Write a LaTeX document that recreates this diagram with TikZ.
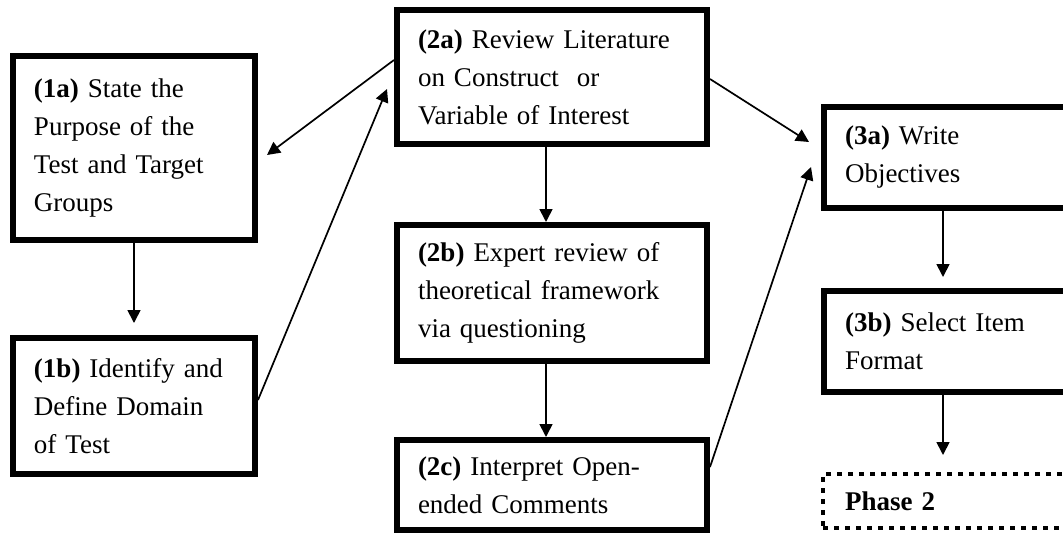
\documentclass[tikz,border=0pt]{standalone}
\usepackage{fontspec}
\setmainfont{Liberation Serif}
\usetikzlibrary{arrows.meta}
\begin{document}
\begin{tikzpicture}[x=1pt,y=-1pt,
  box/.style={draw, line width=6pt, align=left, inner xsep=21pt, inner ysep=0pt,
    font=\fontsize{27}{38}\selectfont, anchor=center},
  phasebox/.style={draw, line width=4pt, dash pattern=on 5pt off 6pt, align=left,
    inner xsep=22pt, inner ysep=0pt, font=\fontsize{27}{38}\selectfont\bfseries, anchor=center},
  arr/.style={line width=1.7pt, -{Triangle[length=13pt,width=13pt]}},
]
\useasboundingbox (0,0) rectangle (1063,536);
\clip (0,0) rectangle (1063,536);

\node[box, minimum width=242pt, minimum height=184pt, text width=200pt] (a1) at (134,148)
  {\textbf{(1a)} State the\\ Purpose of the\\ Test and Target\\ Groups};
\node[box, minimum width=242pt, minimum height=136pt, text width=200pt] (b1) at (134,406)
  {\textbf{(1b)} Identify and\\ Define Domain\\ of Test};

\node[box, minimum width=310pt, minimum height=134pt, text width=268pt] (a2) at (552,77)
  {\textbf{(2a)} Review Literature\\ on Construct{ } or\\ Variable of Interest};
\node[box, minimum width=310pt, minimum height=136pt, text width=268pt] (b2) at (552,293)
  {\textbf{(2b)} Expert review of\\ theoretical framework\\ via questioning};
\node[box, minimum width=310pt, minimum height=90pt, text width=268pt] (c2) at (552,485)
  {\textbf{(2c)} Interpret Open-\\ ended Comments};

\node[box, minimum width=283pt, minimum height=101pt, text width=241pt] (a3) at (965.5,157.5)
  {\textbf{(3a)} Write\\ Objectives};
\node[box, minimum width=283pt, minimum height=101pt, text width=241pt] (b3) at (965.5,341.5)
  {\textbf{(3b)} Select Item\\ Format};
\node[phasebox, minimum width=285pt, minimum height=54pt, text width=241pt] (p2) at (965.5,501)
  {Phase 2};

% vertical arrows
\draw[arr, shorten >=12pt] (a1.south) -- (b1.north);
\draw[arr] ([xshift=-6pt]a2.south) -- ([xshift=-6pt]b2.north);
\draw[arr] ([xshift=-6pt]b2.south) -- ([xshift=-6pt]c2.north);
\draw[arr, shorten >=11pt] ([xshift=-22.5pt]a3.south) -- ([xshift=-22.5pt]b3.north);
\draw[arr, shorten >=17pt] ([xshift=-22.5pt]b3.south) -- ([xshift=-22.5pt]p2.north);

% diagonal arrows
\draw[arr] ([yshift=17pt]a2.west) -- ([xshift=9pt,yshift=-7pt]a1.east);
\draw[arr] ([yshift=6pt]b1.east) -- ([xshift=-7pt,yshift=-12pt]a2.west);
\draw[arr] ([yshift=-2pt]a2.east) -- ([xshift=-12pt,yshift=15.5pt]a3.west);
\draw[arr] ([yshift=18pt]c2.east) -- ([xshift=-10pt,yshift=-9.5pt]a3.west);
\end{tikzpicture}
\end{document}
